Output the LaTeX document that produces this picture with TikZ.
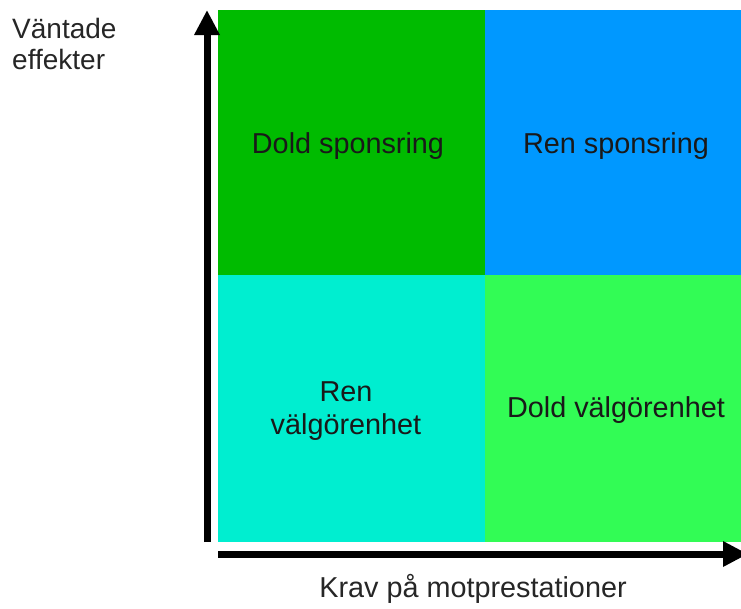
\documentclass[tikz,border=0pt]{standalone}
\usepackage{fontspec}
\setmainfont{Liberation Sans}
\usetikzlibrary{arrows.meta}
\definecolor{qdark}{RGB}{0,187,0}
\definecolor{qblue}{RGB}{0,152,255}
\definecolor{qcyan}{RGB}{0,238,208}
\definecolor{qlight}{RGB}{50,252,85}
\begin{document}
\begin{tikzpicture}[x=1pt,y=-1pt,
  quad/.style={draw=none,minimum width=#1,inner sep=0pt,align=center,text=black!90,
    font=\fontsize{28.8}{33}\selectfont},
  axis/.style={line width=7pt,-{Triangle[length=25pt,width=24pt]}},
  lab/.style={inner sep=0pt,align=left,text=black!85,font=\fontsize{28}{31}\selectfont}]
\useasboundingbox (0,0) rectangle (741,608);
\fill[qdark]  (218,10) rectangle (485,275);
\fill[qblue]  (485,10) rectangle (741,275);
\fill[qcyan]  (218,275) rectangle (485,542);
\fill[qlight] (485,275) rectangle (741,542);
\node[quad=267pt] (q1) at (348,146) {Dold sponsring};
\node[quad=256pt] (q2) at (616,146) {Ren sponsring};
\node[quad=267pt] (q3) at (346,411) {Ren\\välgörenhet};
\node[quad=256pt] (q4) at (616,410) {Dold välgörenhet};
\coordinate (yb) at (207,542);
\coordinate (yt) at (207,10);
\coordinate (xl) at (218,554);
\coordinate (xr) at (748,554);
\draw[axis] (yb) -- (yt);
\draw[axis] (xl) -- (xr);
\node[lab,anchor=north west] (ylab) at (12,18) {Väntade\\effekter};
\node[lab,anchor=base,font=\fontsize{28.8}{33}\selectfont] (xlab) at (473,597) {Krav på motprestationer};
\end{tikzpicture}
\end{document}
